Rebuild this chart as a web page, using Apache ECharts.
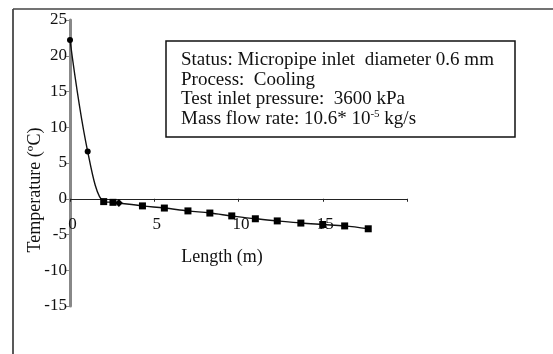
<!DOCTYPE html>
<html>
<head>
<meta charset="utf-8">
<script src="https://cdn.jsdelivr.net/npm/echarts@6/dist/echarts.min.js"></script>
<style>html,body{margin:0;padding:0;background:#fff;}#c{width:553px;height:354px;}</style>
</head>
<body>
<div id="c"></div>
<script>
// Data
const lengthM = [0, 1.05, 2.0, 2.55, 2.9, 4.3, 5.6, 7.0, 8.3, 9.6, 11.0, 12.3, 13.7, 15.0, 16.3, 17.7];
const temperatureC = [22.2, 6.6, -0.4, -0.5, -0.6, -1.0, -1.3, -1.7, -2.0, -2.4, -2.8, -3.1, -3.4, -3.6, -3.8, -4.2];
const markerShapes = ['circle', 'circle', 'rect', 'rect', 'diamond', 'rect', 'rect', 'rect', 'rect', 'rect', 'rect', 'rect', 'rect', 'rect', 'rect', 'rect'];
const xTicks = [0, 5, 10, 15];
const xMax = 20;
const yTicks = [-15, -10, -5, 0, 5, 10, 15, 20, 25];
const infoLines = [
  'Status: Micropipe inlet  diameter 0.6 mm',
  'Process:  Cooling',
  'Test inlet pressure:  3600 kPa',
  'Mass flow rate: 10.6* 10{sup|-5} kg/s'
];

const FONT = 'Liberation Serif';
const GRID_TOP = 20, GRID_H = 286;
const yMin = yTicks[0], yMax = yTicks[yTicks.length - 1];
// shift x axis up so it sits on y = 0 (labels included)
const xAxisOffset = -GRID_H * (0 - yMin) / (yMax - yMin);

const chart = echarts.init(document.getElementById('c'), null, {renderer: 'canvas'});

const seriesData = lengthM.map((x, i) => ({
  value: [x, temperatureC[i]],
  symbol: markerShapes[i],
  symbolSize: markerShapes[i] === 'rect' ? 7 : (markerShapes[i] === 'diamond' ? 8 : 6)
}));

chart.setOption({
  animation: false,
  backgroundColor: '#fff',
  grid: {left: 70, top: GRID_TOP, width: 337, height: GRID_H, containLabel: false},
  xAxis: {
    type: 'value',
    min: xTicks[0], max: xMax, interval: 5,
    offset: xAxisOffset,
    axisLine: {onZero: false, lineStyle: {color: '#222', width: 1}},
    axisTick: {show: true, length: 3, inside: false, lineStyle: {color: '#222'}},
    splitLine: {show: false},
    axisLabel: {
      margin: 17, color: '#111', fontFamily: FONT, fontSize: 17,
      padding: [0, 0, 0, 5],
      formatter: v => xTicks.includes(v) ? String(v) : ''
    }
  },
  yAxis: {
    type: 'value',
    min: yMin, max: yMax, interval: 5,
    axisLine: {show: true, lineStyle: {color: '#888', width: 3}},
    axisTick: {show: true, length: 4, lineStyle: {color: '#888', width: 1}},
    splitLine: {show: false},
    axisLabel: {margin: 3, color: '#111', fontFamily: FONT, fontSize: 17}
  },
  series: [{
    type: 'line',
    data: seriesData,
    smooth: 0.35,
    showAllSymbol: true,
    lineStyle: {color: '#111', width: 1.4},
    itemStyle: {color: '#000'},
    z: 5
  }],
  graphic: [
    {type: 'line', shape: {x1: 13, y1: 9, x2: 13, y2: 360}, style: {stroke: '#222', lineWidth: 1.5}},
    {type: 'line', shape: {x1: 13, y1: 9, x2: 560, y2: 9}, style: {stroke: '#444', lineWidth: 1.5}},
    {type: 'rect', shape: {x: 166, y: 41, width: 349, height: 96}, style: {fill: '#fff', stroke: '#111', lineWidth: 1.5}, z: 10},
    {type: 'text', x: 181, y: 50, z: 11, style: {
      text: infoLines.join('\n'),
      font: '19px "Liberation Serif"', fill: '#111', lineHeight: 19.7,
      rich: {sup: {fontSize: 11, verticalAlign: 'top', padding: [0, 0, 6, 0], fontFamily: FONT, fill: '#111', lineHeight: 19.7}}
    }},
    {type: 'text', x: 222, y: 257, style: {text: 'Length (m)', font: '18px "Liberation Serif"', fill: '#111', align: 'center', verticalAlign: 'middle'}},
    {type: 'text', x: 35, y: 190, rotation: Math.PI / 2, style: {text: 'Temperature (ºC)', font: '18px "Liberation Serif"', fill: '#111', align: 'center', verticalAlign: 'middle'}}
  ]
});
</script>
</body>
</html>
